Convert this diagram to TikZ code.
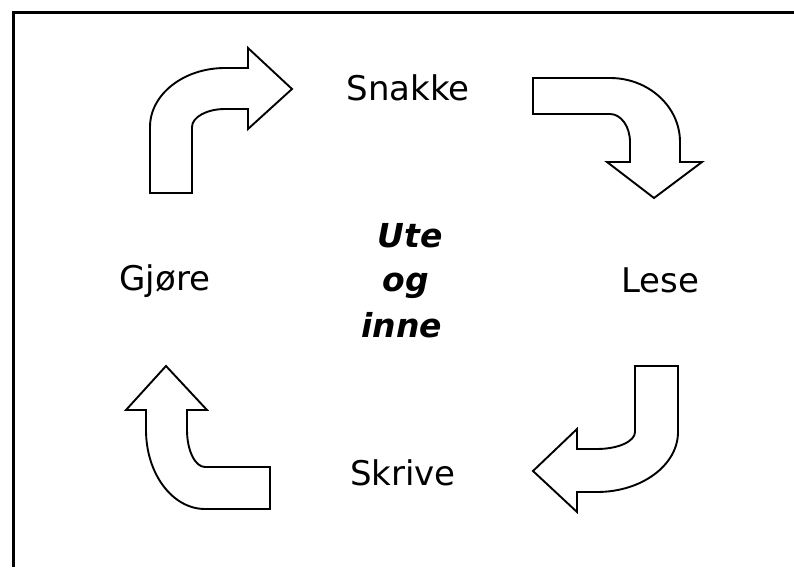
\documentclass[tikz,border=0pt]{standalone}
\usepackage{fontspec}
\setmainfont{DejaVu Sans}
\newfontfamily\midfont{DejaVu Sans Bold Oblique}
\begin{document}
\begin{tikzpicture}[x=1pt,y=-1pt,
  bentarrow/.style={draw=black,line width=1.9pt,line join=miter,fill=white},
  word/.style={anchor=base,inner sep=0pt,font=\fontsize{34}{40}\selectfont},
  midword/.style={anchor=base,inner sep=0pt,font=\midfont\fontsize{33}{38}\selectfont}]
\useasboundingbox (0,0) rectangle (794,567);
% frame (right and bottom sides lie outside the picture)
\draw[line width=3pt] (794,13) -- (13,13) -- (13,567);
% top-left arrow
\draw[bentarrow] (150,193) -- (150,127) .. controls (150,94.4) and (183.6,68) .. (225,68)
  -- (248,68) -- (248,48) -- (292,89) -- (248,129) -- (248,109) -- (225,109)
  .. controls (206.8,109) and (192,117.1) .. (192,127) -- (192,193) -- cycle;
% top-right arrow
\draw[bentarrow] (533,78) -- (610,78) .. controls (648.7,78) and (680,106.7) .. (680,142)
  -- (680,162) -- (702,162) -- (654,198) -- (607,162) -- (630,162) -- (630,142)
  .. controls (630,126.5) and (621,114) .. (610,114) -- (533,114) -- cycle;
% bottom-right arrow
\draw[bentarrow] (635,366) -- (678,366) -- (678,432) .. controls (678,465.1) and (641.7,492) .. (597,492)
  -- (577,492) -- (577,512) -- (533,471) -- (577,429) -- (577,449) -- (597,449)
  .. controls (618,449) and (635,441.4) .. (635,432) -- cycle;
% bottom-left arrow
\draw[bentarrow] (166,366) -- (207,410) -- (187,410) -- (187,430)
  .. controls (187,450.4) and (195.1,467) .. (205,467) -- (270,467) -- (270,509) -- (205,509)
  .. controls (172.4,509) and (146,473.6) .. (146,430) -- (146,410) -- (126,410) -- cycle;
% labels
\node[word] (snakke) at (408,100) {Snakke};
\node[word] (lese) at (660,292) {Lese};
\node[word] (gjore) at (165,290) {Gjøre};
\node[word] (skrive) at (403,485) {Skrive};
\node[midword] (ute) at (410,247) {Ute};
\node[midword] (og) at (406,291) {og};
\node[midword] (inne) at (402,337) {inne};
\end{tikzpicture}
\end{document}
